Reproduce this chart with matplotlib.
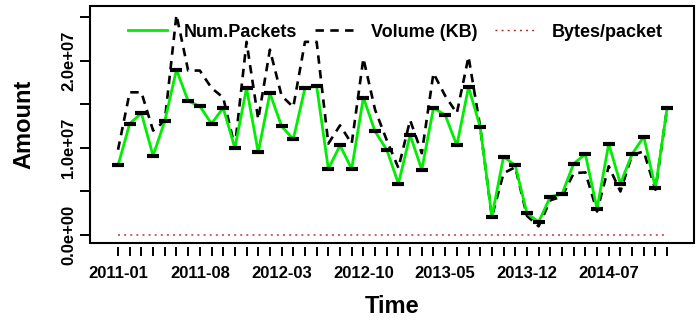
import matplotlib
matplotlib.use('Agg')
from matplotlib import pyplot as plt
from matplotlib.patches import Rectangle

plt.rcParams['font.family'] = ['Liberation Sans', 'DejaVu Sans']
plt.rcParams['font.weight'] = 'bold'
plt.rcParams['axes.labelweight'] = 'bold'

# monthly values, 2011-01 .. 2014-12
packets = [0.80, 1.28, 1.40, 0.91, 1.31, 1.90, 1.54, 1.48, 1.28, 1.46, 1.00, 1.69,
           0.95, 1.63, 1.25, 1.10, 1.69, 1.71, 0.76, 1.03, 0.76, 1.58, 1.19, 0.98,
           0.59, 1.15, 0.75, 1.46, 1.38, 1.03, 1.70, 1.24, 0.21, 0.90, 0.80, 0.25,
           0.15, 0.44, 0.47, 0.82, 0.93, 0.30, 1.05, 0.59, 0.93, 1.13, 0.54, 1.46]
volume = [0.98, 1.64, 1.64, 1.20, 1.31, 2.53, 1.89, 1.89, 1.69, 1.58, 1.01, 2.22,
          1.33, 2.13, 1.60, 1.47, 2.22, 2.22, 1.05, 1.26, 1.05, 2.03, 1.44, 1.09,
          0.77, 1.32, 0.94, 1.86, 1.60, 1.40, 2.05, 1.24, 0.21, 0.71, 0.78, 0.22,
          0.10, 0.40, 0.44, 0.71, 0.72, 0.27, 0.79, 0.50, 0.92, 0.96, 0.52, 1.46]
bytes_per_packet = [1254, 1312, 1200, 1350, 1024, 1364, 1257, 1308, 1352, 1108, 1034, 1345,
                    1434, 1338, 1311, 1368, 1345, 1329, 1415, 1253, 1415, 1316, 1239, 1139,
                    1336, 1175, 1283, 1305, 1187, 1392, 1235, 1024, 1024, 808, 998, 901,
                    683, 931, 959, 887, 793, 922, 770, 868, 1013, 870, 986, 1024]
tick_labels = ['2011-01', '2011-08', '2012-03', '2012-10', '2013-05', '2013-12', '2014-07']

packets = [v * 1e7 for v in packets]
volume = [v * 1e7 for v in volume]
x = list(range(len(packets)))

fig = plt.figure(figsize=(6.96, 3.28), dpi=100)
ax = fig.add_axes([90 / 696, 1 - 243 / 328, 604 / 696, 237 / 328])

ax.plot(x, volume, color='black', lw=1.9, ls=(0, (3.2, 2.4)), label='Volume (KB)')
ax.plot(x, packets, color='#00ee00', lw=2.0, label='Num.Packets')
ax.plot(x, packets, ls='none', marker='_', ms=9, mew=3, color='black')
ax.plot(x, bytes_per_packet, color='#b22222', lw=1.0, ls=(0, (1.4, 3.0)),
        label='Bytes/packet')

ax.set_xlim(-2.4, 49.3)
ax.set_ylim(-0.092e7, 2.632e7)

for s in ax.spines.values():
    s.set_visible(False)
ax.spines['bottom'].set_position(('outward', 3))
ax.add_patch(Rectangle((0, 0), 1, 1, transform=ax.transAxes, fill=False,
                       lw=1.5, color='black', clip_on=False))

ax.set_xticks(x, minor=True)
ax.set_xticks(x[::7])
ax.set_xticklabels(tick_labels, fontsize=12)
ax.set_yticks([0, 1e7, 2e7])
ax.set_yticks([0.5e7, 1.5e7, 2.5e7], minor=True)
ax.set_yticklabels(['0.0e+00', '1.0e+07', '2.0e+07'], fontsize=12, rotation=90,
                   va='center')
ax.tick_params(axis='x', which='both', direction='out', length=6.5, width=1.4, pad=7)
ax.tick_params(axis='y', which='both', direction='out', length=7, width=1.4, pad=3)

ax.set_xlabel('Time', fontsize=17)
ax.set_ylabel('Amount', fontsize=17)
ax.xaxis.set_label_coords(0.5, -0.22)
ax.yaxis.set_label_coords(-0.09, 0.5)

handles, labels = ax.get_legend_handles_labels()
order = [1, 0, 2]
ax.legend([handles[i] for i in order], [labels[i] for i in order],
          loc='center', bbox_to_anchor=(0.505, 0.89), ncol=3, frameon=False,
          fontsize=13, handlelength=2.2, handletextpad=0.9, columnspacing=1.0)

fig.savefig('out.png', dpi=100)
